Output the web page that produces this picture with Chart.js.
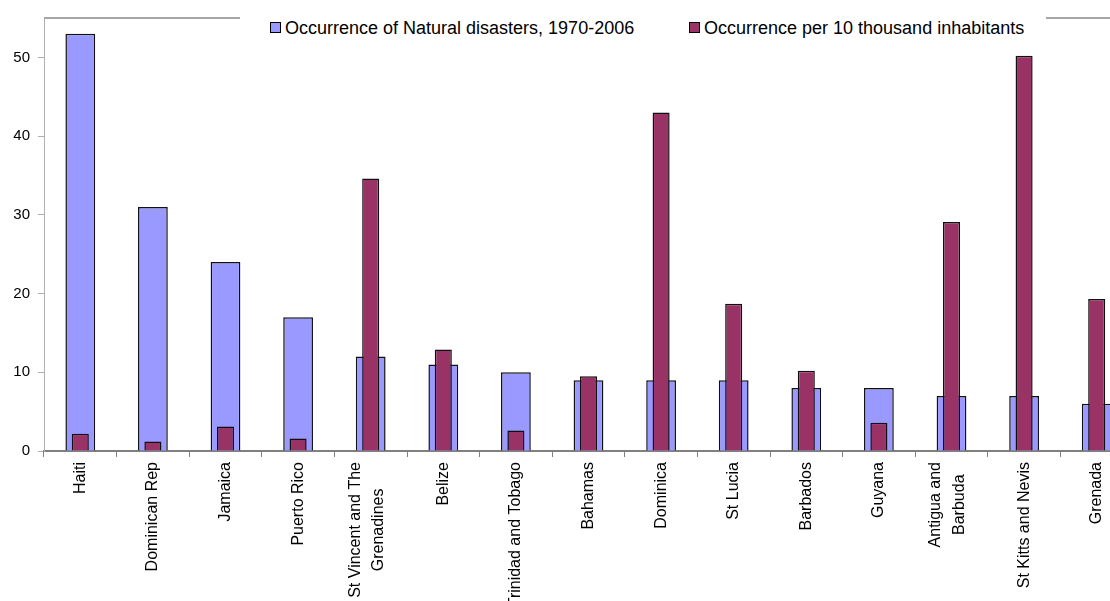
<!DOCTYPE html>
<html>
<head>
<meta charset="utf-8">
<script src="https://cdn.jsdelivr.net/npm/chart.js@4/dist/chart.umd.min.js"></script>
<style>
    html, body { margin: 0; padding: 0; background: #fff; overflow: hidden; }
    #wrap { position: relative; width: 1110px; height: 601px; overflow: hidden; }
    #chart { position: absolute; left: 0; top: 0; }
    .legend {
        position: absolute; left: 240px; top: 8px; width: 806px; height: 40px;
        background: #fff; font-family: "Liberation Sans", Arial, sans-serif; font-size: 18px; color: #000;
    }
    .legend .item { position: absolute; top: 10px; white-space: nowrap; line-height: 21px; }
    .legend .box {
        display: inline-block; width: 9px; height: 9px; border: 1px solid #000;
        margin-right: 4px; vertical-align: 1px;
    }
</style>
</head>
<body>
<div id="wrap">
    <canvas id="chart" width="1133" height="601"></canvas>
    <div class="legend">
        <span class="item" style="left: 30px;"><span class="box" style="background:#9999FF"></span>Occurrence of Natural disasters, 1970-2006</span>
        <span class="item" style="left: 449px;"><span class="box" style="background:#993366"></span>Occurrence per 10 thousand inhabitants</span>
    </div>
</div>
<script>
    const countries = [
        "Haiti", "Dominican Rep", "Jamaica", "Puerto Rico", ["St Vincent and The", "Grenadines"],
        "Belize", "Trinidad and Tobago", "Bahamas", "Dominica", "St Lucia", "Barbados",
        "Guyana", ["Antigua and", "Barbuda"], "St Kitts and Nevis", "Grenada"
    ];
    const occurrences = [53, 31, 24, 17, 12, 11, 10, 9, 9, 9, 8, 8, 7, 7, 6];
    const perTenThousand = [2.2, 1.2, 3.1, 1.6, 34.6, 12.9, 2.6, 9.5, 43.0, 18.7, 10.2, 3.6, 29.1, 50.2, 19.3];
    const yTicks = [0, 10, 20, 30, 40, 50];

    const fontFamily = "'Liberation Sans', Arial, sans-serif";

    // top frame line of the plot area (the legend box sits over part of it)
    const topBorder = {
        id: "topBorder",
        afterDraw(chart) {
            const { ctx, chartArea } = chart;
            ctx.save();
            ctx.strokeStyle = "#a6a6a6";
            ctx.lineWidth = 2;
            ctx.beginPath();
            ctx.moveTo(chartArea.left, chartArea.top);
            ctx.lineTo(chartArea.right, chartArea.top);
            ctx.stroke();
            ctx.restore();
        }
    };

    // two-line category labels: centre the lines on each other and on the tick
    const centerMultiLine = {
        id: "centerMultiLine",
        beforeDraw(chart) {
            const ctx = chart.ctx;
            chart.scales.x.getLabelItems().forEach((item) => {
                if (!Array.isArray(item.label)) return;
                ctx.save();
                ctx.font = item.font.string;
                const w = Math.max(...item.label.map((s) => ctx.measureText(s).width));
                ctx.restore();
                item.options.textAlign = "center";
                item.options.translation[1] += w / 2;
                item.options.translation[0] -= item.font.lineHeight / 2 + 4;
            });
        }
    };

    new Chart(document.getElementById("chart"), {
        type: "bar",
        data: {
            labels: countries,
            datasets: [
                {
                    label: "Occurrence of Natural disasters, 1970-2006",
                    data: occurrences,
                    backgroundColor: "#9999FF",
                    borderColor: "#111",
                    borderWidth: 1.5,
                    grouped: false,
                    order: 2,
                    categoryPercentage: 1,
                    barPercentage: 0.41,
                },
                {
                    label: "Occurrence per 10 thousand inhabitants",
                    data: perTenThousand,
                    backgroundColor: "#993366",
                    borderColor: "#111",
                    borderWidth: 1.5,
                    grouped: false,
                    order: 1,
                    categoryPercentage: 1,
                    barPercentage: 0.235,
                },
            ],
        },
        options: {
            responsive: false,
            animation: false,
            layout: { padding: { top: 18, left: 0, right: 0, bottom: 0 } },
            plugins: {
                legend: { display: false },
                tooltip: { enabled: false },
            },
            scales: {
                x: {
                    offset: true,
                    grid: {
                        display: true,
                        offset: true,
                        drawOnChartArea: false,
                        tickLength: 6,
                        color: "#808080",
                    },
                    border: { color: "#808080", width: 2 },
                    ticks: {
                        autoSkip: false,
                        minRotation: 90,
                        maxRotation: 90,
                        padding: 5,
                        color: "#000",
                        font: { family: fontFamily, size: 16, lineHeight: 1.45 },
                    },
                    afterFit: (scale) => { scale.height = 150; },
                },
                y: {
                    min: 0,
                    max: 55,
                    grid: {
                        drawOnChartArea: false,
                        tickLength: 6,
                        color: "#b0b0b0",
                    },
                    border: { color: "#b0b0b0" },
                    ticks: {
                        padding: 8,
                        color: "#000",
                        font: { family: fontFamily, size: 15 },
                    },
                    afterBuildTicks: (scale) => {
                        scale.ticks = yTicks.map((v) => ({ value: v }));
                    },
                    afterFit: (scale) => { scale.width = 44; },
                },
            },
        },
        plugins: [topBorder, centerMultiLine],
    });
</script>
</body>
</html>
